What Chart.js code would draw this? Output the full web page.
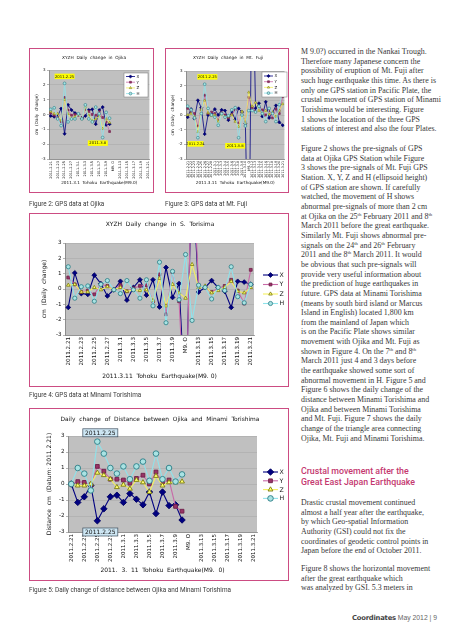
<!DOCTYPE html>
<html>
<head>
<meta charset="utf-8">
<script src="https://cdn.jsdelivr.net/npm/chart.js@4.4.1/dist/chart.umd.min.js"></script>
<style>
html, body { margin: 0; padding: 0; background: #fff; }
body { width: 456px; height: 640px; position: relative; overflow: hidden; }
canvas { position: absolute; }
.box { position: absolute; box-sizing: border-box; border: 1.3px solid #cc4c82; }
.cap { position: absolute; font: 6.4px 'Liberation Sans Narrow', 'Roboto', sans-serif; color: #3a3a3a; white-space: nowrap; line-height: 8px; }
.txt { position: absolute; left: 301px; font: 7.9px/9.65px 'Liberation Serif', 'Times New Roman', serif; color: #383838; white-space: nowrap; }
.txt sup { font-size: 4.8px; line-height: 0; vertical-align: 2.8px; }
.head { position: absolute; left: 301px; top: 466px; font: 500 8.8px/10.7px 'Roboto', sans-serif; color: #c4386f; white-space: nowrap; }
.foot { position: absolute; right: 19px; top: 613px; font: 6.8px/10px 'Liberation Sans', sans-serif; color: #666; white-space: nowrap; }
.foot b { font-family: 'DejaVu Sans', sans-serif; color: #444; letter-spacing: -0.2px; }
</style>
</head>
<body>

<canvas id="figOjika" width="125" height="145" style="left:29px;top:48px"></canvas>
<canvas id="figFuji" width="124" height="145" style="left:165px;top:48px"></canvas>
<canvas id="figTori" width="260" height="174" style="left:29px;top:213px"></canvas>
<canvas id="figDist" width="260" height="173" style="left:29px;top:408px"></canvas>

<div class="box" style="left:29px;top:48px;width:125px;height:145px"></div>
<div class="box" style="left:165px;top:48px;width:124px;height:145px"></div>
<div class="box" style="left:29px;top:213px;width:260px;height:174px"></div>
<div class="box" style="left:29px;top:408px;width:260px;height:173px"></div>

<div class="cap" style="left:29px;top:200px">Figure 2: GPS data at Ojika</div>
<div class="cap" style="left:165px;top:200px">Figure 3: GPS data at Mt. Fuji</div>
<div class="cap" style="left:29px;top:391px">Figure 4: GPS data at Minami Torishima</div>
<div class="cap" style="left:29px;top:586px">Figure 5: Daily change of distance between Ojika and Minami Torishima</div>

<div class="txt" style="top:47px">
M 9.0?) occurred in the Nankai Trough.<br>
Therefore many Japanese concern the<br>
possibility of eruption of Mt. Fuji after<br>
such huge earthquake this time. As there is<br>
only one GPS station in Pacific Plate, the<br>
crustal movement of GPS station of Minami<br>
Torishima would be interesting. Figure<br>
1 shows the location of the three GPS<br>
stations of interest and also the four Plates.
</div>

<div class="txt" style="top:144px">
Figure 2 shows the pre-signals of GPS<br>
data at Ojika GPS Station while Figure<br>
3 shows the pre-signals of Mt. Fuji GPS<br>
Station. X, Y, Z and H (ellipsoid height)<br>
of GPS station are shown. If carefully<br>
watched, the movement of H shows<br>
abnormal pre-signals of more than 2 cm<br>
at Ojika on the 25<sup>th</sup> February 2011 and 8<sup>th</sup><br>
March 2011 before the great earthquake.<br>
Similarly Mt. Fuji shows abnormal pre-<br>
signals on the 24<sup>th</sup> and 26<sup>th</sup> February<br>
2011 and the 8<sup>th</sup> March 2011. It would<br>
be obvious that such pre-signals will<br>
provide very useful information about<br>
the prediction of huge earthquakes in<br>
future. GPS data at Minami Torishima<br>
(means by south bird island or Marcus<br>
Island in English) located 1,800 km<br>
from the mainland of Japan which<br>
is on the Pacific Plate shows similar<br>
movement with Ojika and Mt. Fuji as<br>
shown in Figure 4. On the 7<sup>th</sup> and 8<sup>th</sup><br>
March 2011 just 4 and 3 days before<br>
the earthquake showed some sort of<br>
abnormal movement in H. Figure 5 and<br>
Figure 6 shows the daily change of the<br>
distance between Minami Torishima and<br>
Ojika and between Minami Torishima<br>
and Mt. Fuji. Figure 7 shows the daily<br>
change of the triangle area connecting<br>
Ojika, Mt. Fuji and Minami Torishima.
</div>

<div class="head">Crustal movement after the<br>Great East Japan Earthquake</div>

<div class="txt" style="top:498px">
Drastic crustal movement continued<br>
almost a half year after the earthquake,<br>
by which Geo-spatial Information<br>
Authority (GSI) could not fix the<br>
coordinates of geodetic control points in<br>
Japan before the end of October 2011.
</div>

<div class="txt" style="top:564px">
Figure 8 shows the horizontal movement<br>
after the great earthquake which<br>
was analyzed by GSI. 5.3 meters in
</div>

<div class="foot"><b>Coordinates</b> May 2012 | 9</div>

<script>
// categories: one per day, 2011.2.21 .. 2011.3.21
var dates = [
  '2011.2.21', '2011.2.22', '2011.2.23', '2011.2.24', '2011.2.25', '2011.2.26', '2011.2.27', '2011.2.28',
  '2011.3.1', '2011.3.2', '2011.3.3', '2011.3.4', '2011.3.5', '2011.3.6', '2011.3.7', '2011.3.8',
  '2011.3.9', '2011.3.10', '2011.3.11', '2011.3.12', '2011.3.13', '2011.3.14', '2011.3.15', '2011.3.16',
  '2011.3.17', '2011.3.18', '2011.3.19', '2011.3.20', '2011.3.21'
];
var quakeIndex = 18;
var quakeTick = 'M9. O';
var seriesNames = ['X', 'Y', 'Z', 'H'];

// Figure 2: Ojika (cm, daily change)
var ojikaX = [-0.1, -0.15, -0.1, 0.4, -1.3, 0.65, 0.3, 0.1, 0.0, -0.25, -0.1, 0.3, 0.35, -0.65, 0.3, 0.5, -0.7, -0.65, null, null, null, null, null, null, null, null, null, null, null];
var ojikaY = [0.1, -0.05, -0.2, -0.5, 1.15, 0.3, -0.05, 0.0, -0.05, -0.2, 0.35, 0.2, 0.0, -0.05, 0.2, -0.2, -0.5, -1.15, null, null, null, null, null, null, null, null, null, null, null];
var ojikaZ = [0.2, 0.05, 0.05, -0.4, 1.0, 0.05, -0.3, -0.15, 0.0, -0.3, 0.5, -0.05, -0.4, -0.3, -0.1, -0.95, -0.3, -0.55, null, null, null, null, null, null, null, null, null, null, null];
var ojikaH = [0.35, 0.45, -0.3, -0.75, 2.1, -0.5, -0.3, -0.3, 0.05, -0.3, 0.65, -0.3, -0.5, 0.5, 0.05, -1.55, 0.15, -0.25, null, null, null, null, null, null, null, null, null, null, null];

// Figure 3: Mt. Fuji
var fujiX = [-0.15, 0.4, -0.25, 1.0, 0.5, -1.3, 0.0, 0.1, 0.4, 0.0, 0.35, 0.3, -0.35, 0.2, -0.3, 0.45, 0.2, -0.6, -12, 12, 0.45, 0.8, -0.1, 0.9, -0.2, 0.15, 0.65, -0.5, -0.7];
var fujiY = [0.45, 0.2, 0.1, -0.75, 0.4, 1.35, 0.1, 0.2, 0.1, -0.35, 0.15, 0.0, -0.2, 0.05, 0.35, -0.55, 0.05, -0.45, 1.2, 0.5, 0.25, 0.55, 0.35, 0.0, 0.3, -0.2, 0.4, 0.1, 1.25];
var fujiZ = [0.0, 0.1, -0.1, -1.15, 0.35, 1.0, 0.15, -0.05, 0.0, -0.45, 0.05, -0.1, -0.1, 0.0, -0.45, -0.8, 0.25, -0.55, 1.55, 0.6, 0.85, 0.3, 0.1, 0.3, 0.05, 0.2, -0.1, 0.3, 0.75];
var fujiH = [0.6, 0.35, -0.2, -1.55, 0.1, 2.1, 0.45, 0.0, -0.15, -0.7, 0.1, -0.15, -0.05, 0.35, 0.5, -1.55, 0.0, -0.75, 0.3, 0.3, 0.2, 0.6, 0.1, -0.45, 0.45, 0.1, -0.45, 0.7, 1.6];

// Figure 4: Minami Torishima
var toriX = [-1.2, 1.05, -0.3, -0.35, 0.9, 0.35, -0.45, -0.05, 0.5, -0.72, 0.1, 0.6, -0.4, 0.6, -1.17, 1.4, -0.55, 0.35, -8, 8, -0.2, 0.1, 0.55, 0.1, -0.15, -1.2, 0.5, 0.45, 0.3];
var toriY = [0.75, 0.3, -0.2, -0.1, -0.35, 0.3, 0.2, -0.05, 0.25, -0.15, 0.05, 0.2, 0.25, -0.8, 0.95, -1.65, 1.1, -0.8, -9, 9, 0.25, 0.1, -0.2, 0.05, 0.2, 0.6, -0.1, -0.95, 1.25];
var toriZ = [0.25, 0.3, -0.2, -0.2, 0.1, -0.05, 0.15, -0.05, 0.1, -0.15, -0.05, -0.1, -0.05, -0.75, 0.7, -1.1, 0.3, -0.25, -0.6, 1.6, 0.1, 0.2, -0.25, -0.1, 0.1, 0.5, -0.15, -0.25, 0.1];
var toriH = [1.45, -0.6, 0.15, 0.2, -0.8, 0.3, 0.55, -0.05, -0.3, 0.55, -0.05, -0.6, 0.6, -1.1, 1.75, -2.2, 1.15, -0.7, 2.25, -2.05, 0.25, 0.1, -0.65, 0.1, -0.1, 1.45, -0.5, -0.9, 0.3];

// Figure 5: distance Ojika - Minami Torishima (cm, datum 2011.2.21)
var distX = [0, -1.15, -0.8, -0.1, -2.3, -1.55, -0.8, -0.7, -1.15, -0.6, -0.95, -1.3, -0.5, -1.85, -0.5, -1.35, -1.3, -2.25, null, null, null, null, null, null, null, null, null, null, null];
var distY = [0, 0.15, 0.1, -0.05, 1.1, 0.8, 0.3, 0.3, 0.25, 0.05, 0.35, 0.55, 0, 0.75, 0.1, 0.25, -1.4, -1.7, null, null, null, null, null, null, null, null, null, null, null];
var distZ = [0, -0.1, -0.1, 0, 0.7, 0.55, 0.3, -0.2, -0.05, -0.3, 0.25, 0.1, -0.5, 0.5, -0.1, 0.1, 0.1, 0.15, null, null, null, null, null, null, null, null, null, null, null];
var distH = [0, 1.0, 0.65, -0.4, 2.65, 1.9, 1.0, 0.65, 1.1, 0.3, 1.1, 1.4, 0.2, 1.9, 0.3, 1.0, 0.15, 0.6, null, null, null, null, null, null, null, null, null, null, null];

var seriesStyle = {
  X: { line: '#000080', fill: '#000080', edge: '#000060', shape: 'rectRot', k: 1.15 },
  Y: { line: '#c86aa8', fill: '#993366', edge: '#6e1f48', shape: 'rect', k: 0.95 },
  Z: { line: '#f4f060', fill: '#ffff70', edge: '#7c7c10', shape: 'triangle', k: 1.0 },
  H: { line: '#8fe2ea', fill: '#a9e3e3', edge: '#2b7c84', shape: 'circle', k: 1.0 },
};

function everyOtherTick(i) {
  if (i === quakeIndex) return quakeTick;
  return i % 2 === 0 ? dates[i] : '';
}

function everyTick(i) {
  return i === quakeIndex ? quakeTick : dates[i];
}

// layout per figure, in canvas pixels
var figs = {
  figOjika: {
    w: 125, h: 145, plot: { l: 20, t: 22, r: 124, b: 111 },
    cols: [ojikaX, ojikaY, ojikaZ, ojikaH], tick: everyOtherTick,
    title: 'XYZH  Daily  change  in  Ojika', titleAt: [65, 10], titleSize: 4.3,
    yTitle: 'cm  (Daily  change)', yTitleX: 8, xTitle: '2011.3.1  Tohoku  Earthquake(M9.0)', xTitleY: 135,
    axisSize: 4.2, xTickSize: 3.5, yTickSize: 4, mark: { r: 1.4, pw: 0.6, lw: 0.8 },
    legend: { box: [95, 25, 24, 24], x: 97, len: 9, y: 28.5, gap: 5.7, size: 4 },
    notes: [
      { text: '2011.2.25', at: 4, val: 2.57, w: 20, h: 5.5, fill: '#ffff00', size: 3.8 },
      { text: '2011.3.8', at: 13.6, val: -1.93, w: 20, h: 5.5, fill: '#ffff00', size: 3.8 },
    ],
  },
  figFuji: {
    w: 124, h: 145, plot: { l: 21, t: 23, r: 123, b: 111 },
    cols: [fujiX, fujiY, fujiZ, fujiH], tick: everyTick,
    title: 'XYZH  Daily  change  in  Mt.  Fuji', titleAt: [63, 10], titleSize: 4.3,
    yTitle: 'cm  (Daily  change)', yTitleX: 8, xTitle: '2011.3.11  Tohoku  Earthquake(M9.0)', xTitleY: 135,
    axisSize: 4.2, xTickSize: 3.3, yTickSize: 4, mark: { r: 1.4, pw: 0.6, lw: 0.8 },
    legend: { box: [97, 24, 25, 25], x: 99, len: 9, y: 28, gap: 5.7, size: 4 },
    notes: [
      { text: '2011.2.25', at: 5.8, val: 2.6, w: 20, h: 5.5, fill: '#ffff00', size: 3.8 },
      { text: '2011.2.24', at: 2.3, val: -1.97, w: 16, h: 5.5, fill: '#ffff00', size: 3.6 },
      { text: '2011.3.8', at: 14, val: -2.1, w: 20, h: 5.5, fill: '#ffff00', size: 3.8 },
    ],
  },
  figTori: {
    w: 260, h: 174, plot: { l: 36, t: 30, r: 225, b: 122 },
    cols: [toriX, toriY, toriZ, toriH], tick: everyOtherTick,
    title: 'XYZH  Daily  change  in  S.  Torisima', titleAt: [131, 11], titleSize: 6,
    yTitle: 'cm  (Daily  change)', yTitleX: 15, xTitle: '2011.3.11  Tohoku  Earthquake(M9. 0)', xTitleY: 163,
    axisSize: 6, xTickSize: 5.6, yTickSize: 5.6, mark: { r: 2.1, pw: 0.8, lw: 1.1 },
    legend: { box: null, x: 234, len: 15, y: 62, gap: 9.5, size: 6.2 },
    notes: [],
  },
  figDist: {
    w: 260, h: 173, plot: { l: 39, t: 28, r: 228, b: 124 },
    cols: [distX, distY, distZ, distH], tick: everyOtherTick,
    title: 'Daily  change  of  Distance  between  Ojika  and  Minami  Torishima', titleAt: [131, 11], titleSize: 5.9,
    yTitle: 'Distance  cm  (Datum: 2011.2.21)', yTitleX: 20, xTitle: '2011.  3.  11  Tohoku  Earthquake(M9.  0)', xTitleY: 162,
    axisSize: 6, xTickSize: 5.5, yTickSize: 5.6, mark: { r: 2.8, pw: 0.9, lw: 1.1 },
    legend: { box: null, x: 234, len: 15, y: 64, gap: 8.8, size: 6.2 },
    notes: [
      { text: '2011.2.25', at: 4.46, val: 3.2, w: 35, h: 8, fill: '#cde6f3', edge: '#3d4d5c', size: 6 },
      { text: '2011.2.25', at: 4.46, val: -3.0, w: 35, h: 8, fill: '#cde6f3', edge: '#3d4d5c', size: 6 },
    ],
  },
};

function fontOf(size) {
  return size + "px 'DejaVu Sans', sans-serif";
}

function drawMarker(ctx, ds, x, y) {
  ctx.fillStyle = ds.pointBackgroundColor;
  ctx.strokeStyle = ds.pointBorderColor;
  ctx.lineWidth = ds.pointBorderWidth;
  Chart.helpers.drawPoint(ctx, { pointStyle: ds.pointStyle, radius: ds.pointRadius, rotation: 0, borderWidth: ds.pointBorderWidth }, x, y);
}

var decorPlugin = {
  id: 'decor',
  beforeDraw: function (chart) {
    var a = chart.chartArea;
    var ctx = chart.ctx;
    ctx.save();
    ctx.fillStyle = '#c0c0c0';
    ctx.fillRect(a.left, a.top, a.right - a.left, a.bottom - a.top);
    ctx.restore();
  },
  afterDraw: function (chart) {
    var fig = figs[chart.canvas.id];
    var ctx = chart.ctx;
    var xs = chart.scales.x;
    var ys = chart.scales.y;
    ctx.save();
    ctx.textAlign = 'center';
    ctx.textBaseline = 'middle';
    ctx.fillStyle = '#111';
    ctx.font = fontOf(fig.titleSize);
    ctx.fillText(fig.title, fig.titleAt[0], fig.titleAt[1]);

    fig.notes.forEach(function (n) {
      var cx = xs.getPixelForValue(n.at);
      var cy = ys.getPixelForValue(n.val);
      ctx.fillStyle = n.fill;
      ctx.fillRect(cx - n.w / 2, cy - n.h / 2, n.w, n.h);
      if (n.edge) {
        ctx.strokeStyle = n.edge;
        ctx.lineWidth = 0.7;
        ctx.strokeRect(cx - n.w / 2, cy - n.h / 2, n.w, n.h);
      }
      ctx.fillStyle = '#111';
      ctx.font = fontOf(n.size);
      ctx.fillText(n.text, cx, cy + 0.3);
    });

    var lg = fig.legend;
    if (lg.box) {
      ctx.fillStyle = '#fff';
      ctx.strokeStyle = '#777';
      ctx.lineWidth = 0.5;
      ctx.fillRect(lg.box[0], lg.box[1], lg.box[2], lg.box[3]);
      ctx.strokeRect(lg.box[0], lg.box[1], lg.box[2], lg.box[3]);
    }
    chart.data.datasets.forEach(function (ds, i) {
      var y = lg.y + i * lg.gap;
      ctx.strokeStyle = ds.borderColor;
      ctx.lineWidth = ds.borderWidth;
      ctx.beginPath();
      ctx.moveTo(lg.x, y);
      ctx.lineTo(lg.x + lg.len, y);
      ctx.stroke();
      drawMarker(ctx, ds, lg.x + lg.len / 2, y);
      ctx.fillStyle = '#111';
      ctx.textAlign = 'left';
      ctx.font = fontOf(lg.size);
      ctx.fillText(ds.label, lg.x + lg.len + 1.5, y + 0.3);
    });
    ctx.restore();
  },
};

function buildDatasets(fig) {
  return seriesNames.map(function (name, i) {
    var st = seriesStyle[name];
    return {
      label: name,
      data: fig.cols[i],
      borderColor: st.line,
      backgroundColor: st.fill,
      pointBackgroundColor: st.fill,
      pointBorderColor: st.edge,
      pointStyle: st.shape,
      pointRadius: fig.mark.r * st.k,
      pointBorderWidth: fig.mark.pw,
      borderWidth: fig.mark.lw,
      tension: 0,
      clip: 0,
      order: 4 - i,
    };
  });
}

function mountFigure(id) {
  var fig = figs[id];
  var xLh = fig.axisSize * 1.2;
  return new Chart(document.getElementById(id), {
    type: 'line',
    data: { labels: dates, datasets: buildDatasets(fig) },
    options: {
      responsive: false,
      animation: false,
      devicePixelRatio: 1,
      layout: { padding: { left: 0, top: fig.plot.t, right: fig.w - fig.plot.r, bottom: 0 } },
      plugins: { legend: { display: false }, tooltip: { enabled: false }, title: { display: false } },
      scales: {
        x: {
          offset: true,
          grid: { display: false, drawTicks: false },
          border: { display: true, color: '#6a6a6a', width: 0.6 },
          ticks: {
            autoSkip: false, minRotation: 90, maxRotation: 90, padding: 2, color: '#111',
            font: { size: fig.xTickSize },
            callback: function (v, i) { return fig.tick(i); },
          },
          title: {
            display: true, text: fig.xTitle, color: '#111', font: { size: fig.axisSize },
            padding: { top: 0, bottom: fig.h - fig.xTitleY - xLh / 2 },
          },
          afterFit: function (s) { s.height = fig.h - fig.plot.b; },
        },
        y: {
          min: -3,
          max: 3,
          ticks: { stepSize: 1, padding: 1.5, color: '#111', font: { size: fig.yTickSize } },
          grid: { color: '#a6a6a6', lineWidth: 0.5, tickLength: 2, tickColor: '#6a6a6a' },
          border: { color: '#6a6a6a', width: 0.6 },
          title: {
            display: true, text: fig.yTitle, color: '#111', font: { size: fig.axisSize },
            padding: { top: fig.yTitleX - xLh / 2, bottom: 0 },
          },
          afterFit: function (s) { s.width = fig.plot.l; },
        },
      },
    },
    plugins: [decorPlugin],
  });
}

Chart.defaults.font.family = "'DejaVu Sans', sans-serif";
['figOjika', 'figFuji', 'figTori', 'figDist'].forEach(mountFigure);
</script>
</body>
</html>
